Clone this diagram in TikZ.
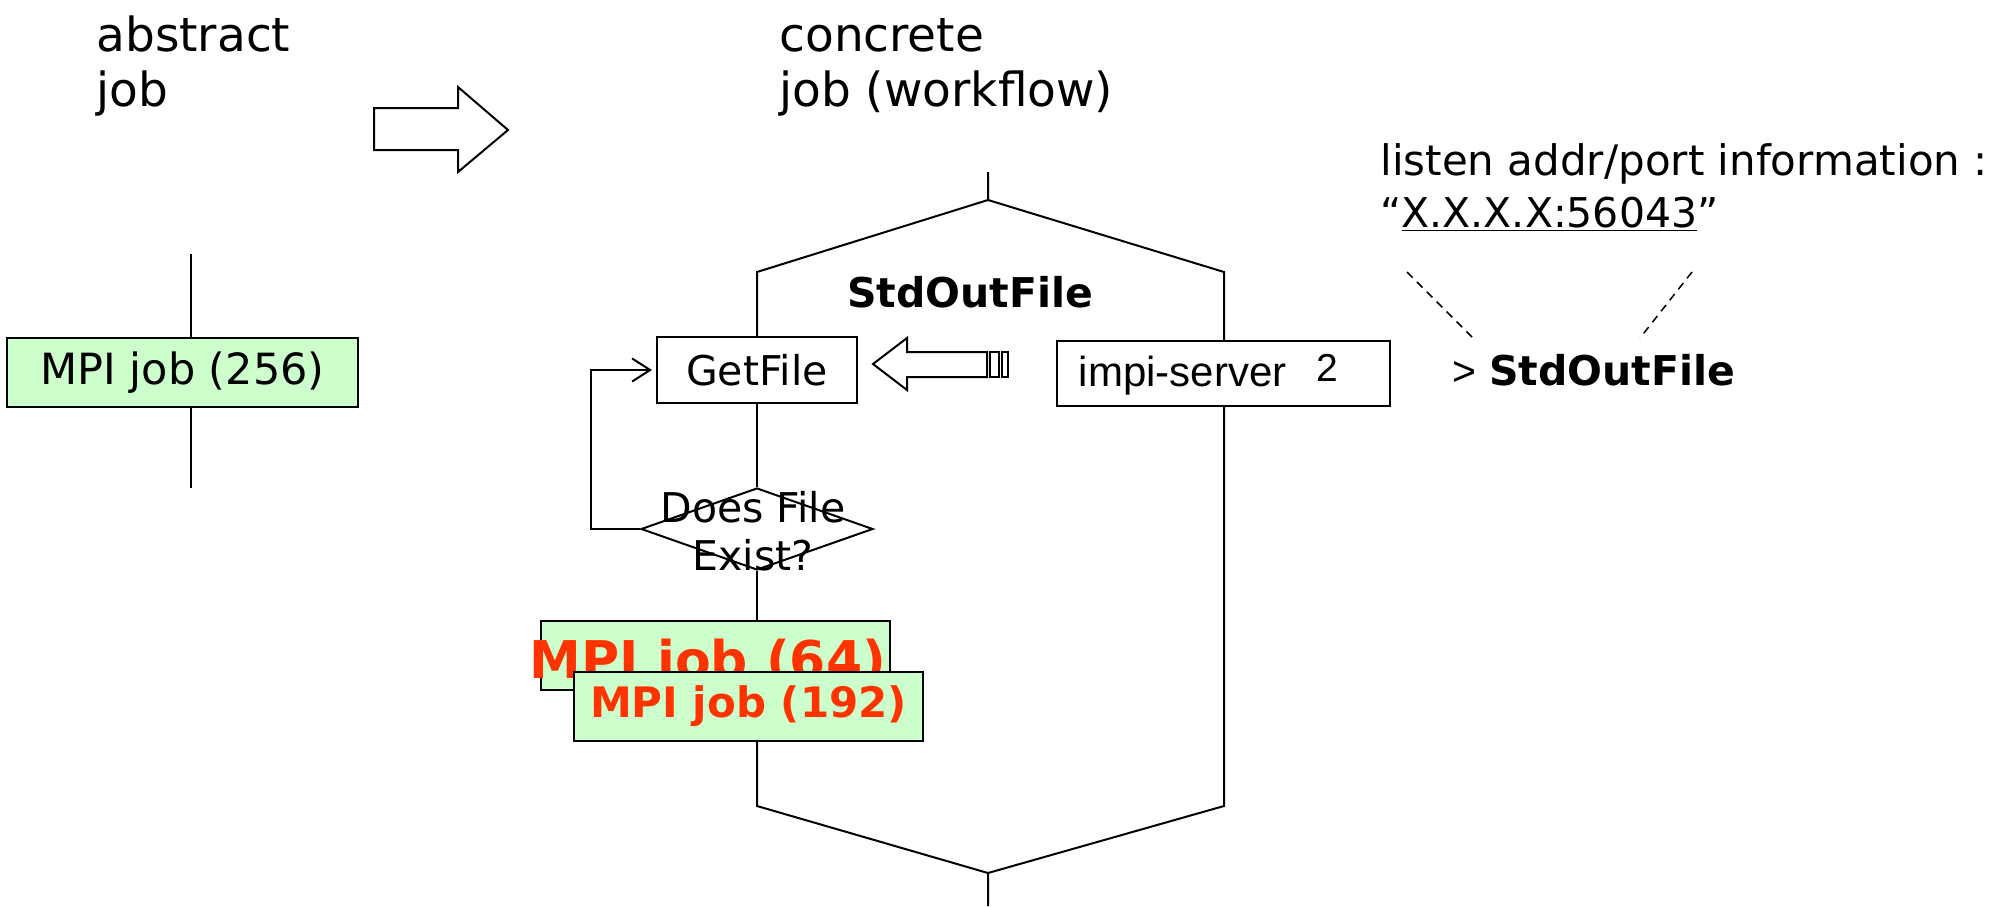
\documentclass[tikz,border=0pt]{standalone}
\usepackage{fontspec}
\setmainfont{DejaVu Sans}
\newfontfamily\arialfont{Liberation Sans}
\usetikzlibrary{shapes.geometric,arrows.meta}
\definecolor{jobgreen}{HTML}{CCFFCC}
\definecolor{jobred}{HTML}{FF3300}
\begin{document}
\begin{tikzpicture}[x=0.5pt,y=-0.5pt,
  txt/.style={font=\fontsize{20.5pt}{24pt}\selectfont, inner sep=0pt},
  ttl/.style={font=\fontsize{23.5pt}{28pt}\selectfont, inner sep=0pt, anchor=base west},
  boldtxt/.style={inner sep=0pt, font=\fontsize{20.5pt}{24pt}\selectfont\bfseries},
  box/.style={draw, line width=1pt, inner sep=0pt, txt},
  job/.style={box, fill=jobgreen, minimum width=174.5pt, minimum height=34.5pt},
  ln/.style={line width=1pt},
  hollow/.style={draw, line width=1pt, fill=white, line join=miter},
  dashline/.style={line width=0.75pt, dash pattern=on 4pt off 3pt}
]
\useasboundingbox (0,0) rectangle (1999,906);
\fill[white] (0,0) rectangle (1999,906);

% titles
\node[ttl] (abs1) at (96,51) {abstract};
\node[ttl] (abs2) at (96,106) {job};
\node[ttl] (con1) at (779,51) {concrete};
\node[ttl] (con2) at (779,106) {job (workflow)};

% big hollow arrow
\draw[hollow] (374,108) -- (458,108) -- (458,87) -- (508,130) -- (458,172) -- (458,150) -- (374,150) -- cycle;

% abstract job
\node[job, minimum width=175.5pt, font=\fontsize{21.5pt}{24pt}\selectfont] (m256) at (182.5,372.5) {MPI job (256)};
\coordinate (m256top) at (191,254);
\coordinate (m256bot) at (191,488);
\draw[ln] (m256top) -- (m256top |- m256.north);
\draw[ln] (m256top |- m256.south) -- (m256bot);

% hexagon corners
\coordinate (htop) at (988,172);
\coordinate (hapex) at (988,200);
\coordinate (hlt) at (757,272);
\coordinate (hrt) at (1224,272);
\coordinate (hlb) at (757,806);
\coordinate (hrb) at (1224,806);
\coordinate (hbot) at (988,873);
\coordinate (hend) at (988,906);

% nodes in workflow
\node[box, minimum width=100pt, minimum height=33pt] (get) at (757,370) {GetFile};
\node[box, minimum width=166.5pt, minimum height=32.5pt, text height=17pt, text depth=4.4pt, font=\arialfont\fontsize{21pt}{24pt}\selectfont] (impi) at (1223.5,373.5) {impi-server\hspace{15pt}\raisebox{2.5pt}{\smash{\fontsize{19.5pt}{22pt}\selectfont 2}}\hspace{15pt}\mbox{}};
\node[draw, line width=1pt, shape=diamond, minimum width=116pt, minimum height=41pt, inner sep=0pt] (dia) at (757,529) {};
\node[txt, align=center] (diatext) at (753,531) {Does File\\Exist?};

\node[job] (m64) at (715.5,655.5) {};
\node[inner sep=0pt, anchor=base, text=jobred, font=\fontsize{26pt}{30pt}\selectfont\bfseries] (m64text) at (708,678) {MPI job (64)};
\node[job, text=jobred, font=\fontsize{21pt}{24pt}\selectfont\bfseries] (m192) at (748.5,706.5) {MPI job (192)};

% hexagon / flow lines
\draw[ln] (htop) -- (hapex) -- (hlt) -- (get.north);
\draw[ln] (hapex) -- (hrt) -- (hrt |- impi.north);
\draw[ln] (get.south) -- (dia.north);
\draw[ln] (dia.south) -- (dia.south |- m64.north);
\draw[ln] (hlb |- m192.south) -- (hlb) -- (hbot) -- (hend);
\draw[ln] (hrt |- impi.south) -- (hrb) -- (hbot);

% loop back
\coordinate (loopx) at (591,0);
\draw[ln, -{Straight Barb[length=9pt,width=11.5pt]}] (dia.west) -- (dia.west -| loopx) -- (loopx |- get.west) -- ([xshift=-2pt]get.west);

% hollow arrow into GetFile
\draw[hollow] (873,364) -- (907,338) -- (907,352) -- (987,352) -- (987,377) -- (907,377) -- (907,390) -- cycle;
\draw[line width=0.8pt] (990,352) rectangle (999,377);
\draw[line width=0.8pt] (1002,352) rectangle (1008,377);

% labels
\node[boldtxt, anchor=base west] (so1) at (847,307) {StdOutFile};
\node[txt, anchor=base west] (so2) at (1452,385) {{\arialfont >} \textbf{StdOutFile}};
\node[txt, anchor=base west, font=\fontsize{21pt}{24pt}\selectfont] (lis1) at (1380,175) {listen addr/port information :};
\node[txt, anchor=base west] (lis2) at (1380,227) {“\underline{X.X.X.X:56043}”};

\coordinate (d1a) at (1407,272);
\coordinate (d1b) at (1473,338);
\coordinate (d2a) at (1692,272);
\coordinate (d2b) at (1640,338);
\draw[dashline] (d1a) -- (d1b);
\draw[dashline] (d2a) -- (d2b);
\end{tikzpicture}
\end{document}
